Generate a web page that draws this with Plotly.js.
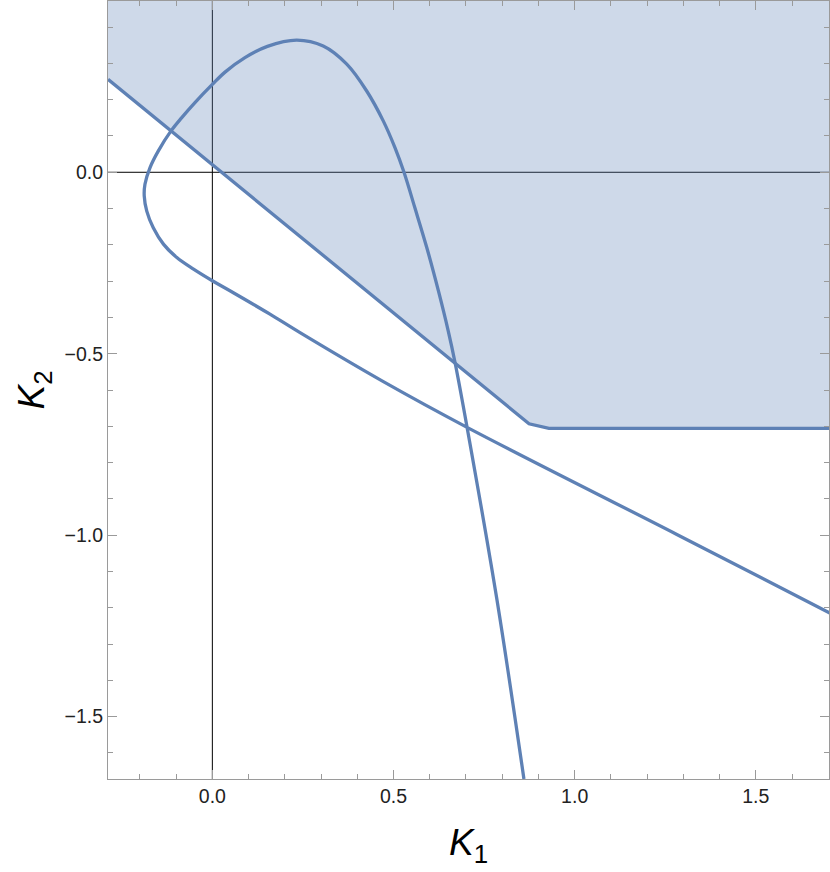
<!DOCTYPE html>
<html>
<head>
<meta charset="utf-8">
<script src="https://cdn.plot.ly/plotly-3.0.1.min.js"></script>
<style>html,body{margin:0;padding:0;background:#fff;}#chart{width:830px;height:872px;}</style>
</head>
<body>
<div id="chart"></div>
<script>
// Axis ranges (K1, K2)
const xRange = [-0.288, 1.702];
const yRange = [-1.672, 0.472];

// Tick values
const xTickVals = [0, 0.5, 1.0, 1.5];
const yTickVals = [-1.5, -1.0, -0.5, 0.0];

// Boundary of the shaded region (piecewise line)
const boundaryX = [-0.288, 0.874, 0.929, 1.702];
const boundaryY = [0.256, -0.693, -0.706, -0.706];

// Curve traced from the bottom of the steep branch, over the peak, round the left nose, out along the lower branch
const curveX = [0.860, 0.786, 0.704, 0.670, 0.651, 0.624, 0.592, 0.559, 0.529, 0.504, 0.472, 0.426, 0.371, 0.306, 0.233, 0.152, 0.090, 0.035, 0.0, -0.048, -0.085, -0.114, -0.149, -0.172, -0.186, -0.188, -0.181, -0.163, -0.135, -0.098, -0.052, 0.0, 0.058, 0.159, 0.242, 0.472, 0.707, 1.282, 1.707];
const curveY = [-1.672, -1.181, -0.708, -0.525, -0.437, -0.327, -0.208, -0.098, 0.0, 0.068, 0.141, 0.224, 0.298, 0.348, 0.364, 0.347, 0.316, 0.276, 0.242, 0.192, 0.150, 0.114, 0.059, 0.013, -0.033, -0.065, -0.107, -0.153, -0.198, -0.235, -0.267, -0.299, -0.332, -0.391, -0.442, -0.577, -0.705, -0.998, -1.216];

const lineColor = '#5E81B5';

// Shaded region: area above the boundary up to the top of the plot range
const regionX = boundaryX.concat([boundaryX[boundaryX.length - 1], boundaryX[0]]);
const regionY = boundaryY.concat([yRange[1], yRange[1]]);

const traces = [
  {x: regionX, y: regionY, mode: 'lines', fill: 'toself', fillcolor: 'rgba(94,129,181,0.3)',
   line: {width: 0, color: 'rgba(0,0,0,0)'}, hoverinfo: 'skip', showlegend: false},
  {x: boundaryX, y: boundaryY, mode: 'lines', line: {color: lineColor, width: 3.3}, showlegend: false},
  {x: curveX, y: curveY, mode: 'lines', line: {color: lineColor, width: 3.3, shape: 'spline', smoothing: 1}, showlegend: false}
];

const frameColor = '#9a9a9a';
const tickFont = {family: 'Liberation Sans, Arial, sans-serif', size: 19.5, color: '#222'};
const titleFont = {family: 'Liberation Sans, Arial, sans-serif', size: 37, color: '#000'};
const axisCommon = {
  showline: true, linecolor: frameColor, linewidth: 1, mirror: 'ticks',
  ticks: 'inside', ticklen: 9, tickcolor: frameColor, tickwidth: 1,
  showgrid: false, zeroline: false,
  tickfont: tickFont, tickformat: '.1f', layer: 'above traces',
  minor: {ticks: 'inside', ticklen: 5, tickcolor: frameColor, dtick: 0.1, showgrid: false}
};

const layout = {
  width: 830, height: 872,
  margin: {l: 108, r: 1, t: 1, b: 93},
  paper_bgcolor: '#fff', plot_bgcolor: '#fff',
  showlegend: false,
  xaxis: Object.assign({}, axisCommon, {
    range: xRange, tickvals: xTickVals, tick0: 0,
    title: {text: '<i>K</i><sub>1</sub>', font: titleFont, standoff: 22}
  }),
  yaxis: Object.assign({}, axisCommon, {
    range: yRange, tickvals: yTickVals, tick0: 0,
    title: {text: '<i>K</i><sub>2</sub>', font: titleFont, standoff: 8}
  }),
  shapes: [
    {type: 'line', xref: 'x', yref: 'paper', x0: 0, x1: 0, y0: 0, y1: 1, line: {color: '#000', width: 1}, layer: 'below'},
    {type: 'line', xref: 'paper', yref: 'y', x0: 0, x1: 1, y0: 0, y1: 0, line: {color: '#000', width: 1}, layer: 'below'}
  ]
};

Plotly.newPlot('chart', traces, layout, {displayModeBar: false, staticPlot: true});
</script>
</body>
</html>
